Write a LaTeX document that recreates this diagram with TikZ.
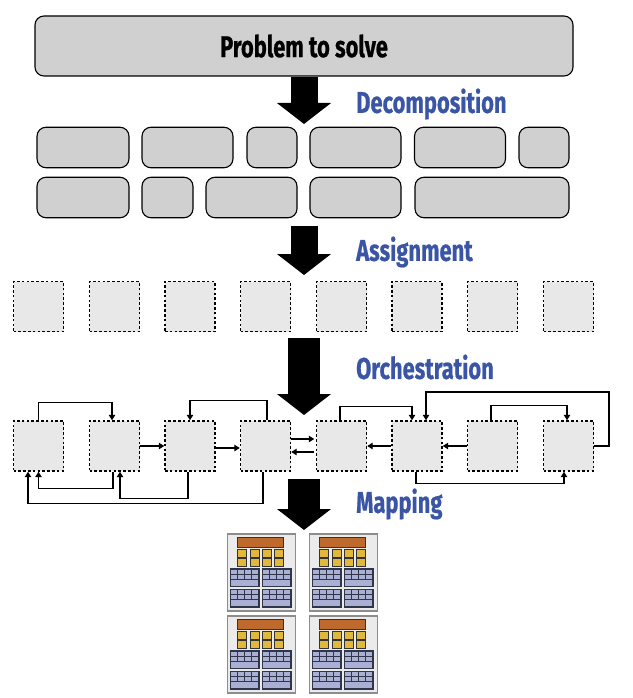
\documentclass[tikz,border=0pt]{standalone}
\usepackage{fontspec}
\usetikzlibrary{arrows.meta,calc}
\newfontfamily\lab[FakeStretch=0.73,FakeBold=0.6]{Fira Sans}
\definecolor{roundgray}{HTML}{D0D0D0}
\definecolor{dashgray}{HTML}{E8E8E8}
\definecolor{labelblue}{HTML}{3A55A6}
\definecolor{chipbg}{HTML}{EBEBEB}
\definecolor{chipedge}{HTML}{8C8C8C}
\definecolor{orangebar}{HTML}{BE6A2C}
\definecolor{yellowcell}{HTML}{E2B83C}
\definecolor{blockdark}{HTML}{30354A}
\definecolor{blockcell}{HTML}{A9B0D4}
\tikzset{
  x=1pt,y=-1pt,
  task/.style={draw=black,fill=roundgray,rounded corners=9pt,line width=1.1pt,minimum height=40.5pt,inner sep=0pt},
  worker/.style={draw=black,fill=dashgray,line width=1.45pt,dash pattern=on 2.6pt off 2.2pt,minimum width=50pt,minimum height=50pt,inner sep=0pt},
  conn/.style={draw=black,line width=1.25pt,-{Triangle[length=5.5pt,width=6.5pt]}},
  bigarrow/.style={draw=black,-{Triangle[length=21pt,width=53pt]}},
  steplabel/.style={anchor=west,inner sep=0pt,text=labelblue,font=\lab\bfseries\fontsize{30}{32}\selectfont},
  chipframe/.style={draw=chipedge,fill=chipbg,line width=1.2pt,minimum width=68pt,minimum height=77pt,inner sep=0pt},
  pics/block/.style={code={
    \fill[blockdark] (0,0) rectangle (30,18.7);
    \foreach \cx in {1.4,8.4,15.4,22.4}{
      \foreach \cy in {1.4,6.4}{\fill[blockcell] (\cx,\cy) rectangle ++(5.8,3.7);}
    }
    \fill[blockcell] (1.4,11.5) rectangle (28.6,17.3);
  }},
  pics/chip/.style={code={
    \fill[orangebar,draw=black!80,line width=.7pt] (10.7,3.5) rectangle (56.5,13.7);
    \foreach \cx in {10.7,23.3,35.3,47.3}{
      \foreach \cy in {16,25.4}{\fill[yellowcell,draw=black!80,line width=.7pt] (\cx,\cy) rectangle ++(9.4,7.8);}
    }
    \pic at (3,35) {block};
    \pic at (35,35) {block};
    \pic at (3,55.5) {block};
    \pic at (35,55.5) {block};
  }}
}
\begin{document}
\begin{tikzpicture}
\useasboundingbox (0,0) rectangle (632,698);
% problem
\node[task,minimum width=538pt,minimum height=60pt] (problem) at (304,46) {\lab\bfseries\fontsize{30}{32}\selectfont Problem to solve};
% tasks
\node[task,minimum width=92pt] (t1) at (83,147.5) {};
\node[task,minimum width=91pt] (t2) at (187.5,147.5) {};
\node[task,minimum width=50pt] (t3) at (272,147.5) {};
\node[task,minimum width=91pt] (t4) at (355.5,147.5) {};
\node[task,minimum width=91pt] (t5) at (460,147.5) {};
\node[task,minimum width=50pt] (t6) at (544,147.5) {};
\node[task,minimum width=92pt] (t7) at (83,197.5) {};
\node[task,minimum width=51pt] (t8) at (167.5,197.5) {};
\node[task,minimum width=91pt] (t9) at (251.5,197.5) {};
\node[task,minimum width=91pt] (t10) at (355.5,197.5) {};
\node[task,minimum width=154pt] (t11) at (492,197.5) {};
% assigned
\foreach \n/\x in {1/38.5,2/114.5,3/190,4/265.5,5/341.5,6/417,7/492.5,8/568.5}{
  \node[worker] (a\n) at (\x,306.5) {};
  \node[worker] (n\n) at (\x,446) {};
}
% big arrows
\coordinate (tip1) at (304,124);
\coordinate (s2) at (304,226);
\coordinate (tip2) at (304,275);
\coordinate (s3) at (304,338);
\coordinate (tip3) at (304,415);
\coordinate (s4) at (304,479);
\coordinate (tip4) at (304,530);
\draw[bigarrow,line width=27pt] (problem.south) -- (tip1);
\draw[bigarrow,line width=27pt] (s2) -- (tip2);
\draw[bigarrow,line width=32pt] (s3) -- (tip3);
\draw[bigarrow,line width=32pt] (s4) -- (tip4);
% labels
\node[steplabel] (l1) at (356,104) {Decomposition};
\node[steplabel] (l2) at (356,252) {Assignment};
\node[steplabel] (l3) at (356,367) {Orchestration};
\node[steplabel] (l4) at (356,504) {Mapping};
% connectors
\draw[conn] (n1.north) -- ++(0,-18) -| ([xshift=-2.5pt]n2.north);
\draw[conn] (n2.east) -- (n3.west);
\draw[conn] ([yshift=-2pt]n3.east) -- ([yshift=-2pt]n4.west);
\draw[conn] ([xshift=1.5pt]n4.north) -- ++(0,-20) -| (n3.north);
\draw[conn] ([yshift=7pt]n4.east) -- ([yshift=7pt,xshift=-1.5pt]n5.west);
\draw[conn] ([yshift=-6pt,xshift=-1.5pt]n5.west) -- ([yshift=-6pt]n4.east);
\draw[conn] ([xshift=-1.5pt]n2.south) -- ++(0,17) -| (n1.south);
\draw[conn] ([xshift=-2pt]n3.south) -- ++(0,27) -| ([xshift=5.5pt]n2.south);
\draw[conn] ([xshift=-2.5pt]n4.south) -- ++(0,32) -| ([xshift=-10.5pt]n1.south);
\draw[conn] ([xshift=-1.5pt]n5.north) -- ++(0,-14) -| ([xshift=-5pt]n6.north);
\draw[conn] (n6.west) -- (n5.east);
\draw[conn] (n7.west) -- (n6.east);
\draw[conn] ([xshift=-1.5pt]n7.north) -- ++(0,-15) -| ([xshift=-1.5pt]n8.north);
\draw[conn] (n8.east) -| (609,392) -| ([xshift=9pt]n6.north);
\draw[conn] ([xshift=-1pt]n6.south) -- ++(0,12) -| ([xshift=-4.5pt]n8.south);
% chips
\node[chipframe] (c1) at (261.3,572.5) {};
\node[chipframe] (c2) at (343.3,572.5) {};
\node[chipframe] (c3) at (261.3,654.5) {};
\node[chipframe] (c4) at (343.3,654.5) {};
\foreach \c in {c1,c2,c3,c4}{
  \pic at (\c.north west) {chip};
}
\end{tikzpicture}
\end{document}
